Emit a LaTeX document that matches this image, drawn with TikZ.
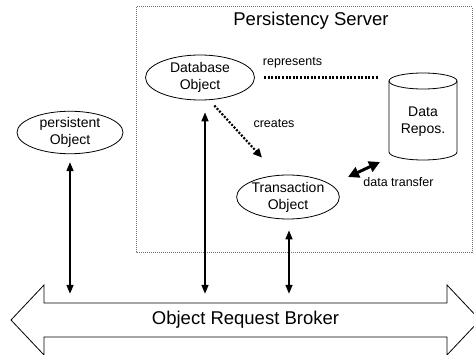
\documentclass[tikz,border=0pt]{standalone}
\usepackage{fontspec}
\setmainfont{Liberation Sans}
\usetikzlibrary{shapes.geometric,arrows.meta,calc}
\begin{document}
\begin{tikzpicture}[x=1pt,y=1pt,
  obj/.style={ellipse,draw,line width=0.8pt,inner sep=0pt,align=center,
    font=\fontsize{14}{17}\selectfont},
  lbl/.style={font=\fontsize{12.5}{15}\selectfont,inner sep=0pt},
  big/.style={font=\fontsize{18.5}{22}\selectfont,inner sep=0pt},
  vlink/.style={line width=1.6pt,{Triangle[length=9pt,width=7pt]}-{Triangle[length=9pt,width=7pt]}},
  dotline/.style={line width=2.2pt,dash pattern=on 2pt off 1.6pt},
  boxline/.style={draw=black!55,line width=1pt,dash pattern=on 1pt off 1pt}]
\useasboundingbox (0,0) rectangle (474,354);
\clip (0,0) rectangle (474,354);
% server box
\draw[boxline] (136,347) rectangle (472,102);
\node[big] (title) at (311,333) {Persistency Server};
% objects
\node[obj,minimum width=109pt,minimum height=45pt] (db) at (200,276.5) {Database\\Object};
\node[obj,minimum width=102pt,minimum height=44pt] (tr) at (288,157) {Transaction\\Object};
\node[obj,minimum width=106pt,minimum height=39pt] (po) at (70,221.5) {persistent\\Object};
% cylinder
\draw[line width=0.8pt] (389,273) -- (389,202) arc[start angle=180,end angle=360,x radius=34pt,y radius=8pt] -- (457,273);
\draw[line width=0.8pt] (423,273) ellipse [x radius=34pt,y radius=8pt];
\node[align=center,inner sep=0pt,font=\fontsize{14}{17}\selectfont,minimum width=68pt,minimum height=70pt] (repo) at (423,232) {Data\\Repos.};
% ORB
\node[big,minimum width=436pt,minimum height=34pt] (orb) at (245.5,34) {Object Request Broker};
\draw[line width=0.8pt] (44,51) -- (447,51) -- (447,69) -- (480,34) -- (447,-1) -- (447,17)
  -- (44,17) -- (44,-1) -- (11,34) -- (44,69) -- cycle;
% represents
\draw[dotline,shorten <=9pt,shorten >=11pt] (db.east) -- (repo.west |- db.east);
\node[lbl] (rep) at (292.5,291) {represents};
% creates
\draw[dotline,-{Triangle[length=9pt,width=8pt]}] ([yshift=-6pt]db.-57) -- ([shift={(-26pt,17pt)}]tr.north);
\node[lbl] (cr) at (274,230) {creates};
% data transfer
\coordinate (dtA) at (348,177);
\coordinate (dtB) at (380,192);
\draw[line width=3pt,{Triangle[length=11pt,width=11pt]}-{Triangle[length=11pt,width=11pt]}] (dtA) -- (dtB);
\node[lbl] (dt) at (398.5,172) {data transfer};
% vertical links
\draw[vlink,shorten <=8pt,shorten >=9pt] (po.south) -- (po.south |- orb.north);
\draw[vlink,shorten <=12pt,shorten >=9pt] (db.south -| 205,0) -- (205,0 |- orb.north);
\draw[vlink,shorten <=11pt,shorten >=9pt] (tr.south -| 289,0) -- (289,0 |- orb.north);
\end{tikzpicture}
\end{document}
